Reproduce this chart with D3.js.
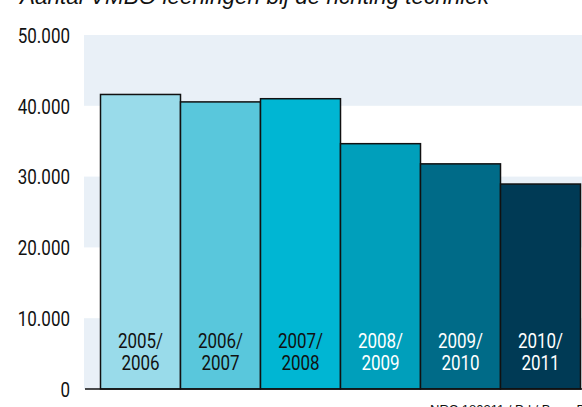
<!DOCTYPE html>
<html>
<head>
<meta charset="utf-8">
<script src="https://cdn.jsdelivr.net/npm/d3@7"></script>
<style>
  body { margin: 0; background: #fff; }
  svg { display: block; }
</style>
</head>
<body>
<div id="chart"></div>
<script>
// schooljaren en aantallen leerlingen
let years = ["2005/2006", "2006/2007", "2007/2008", "2008/2009", "2009/2010", "2010/2011"];
let students = [41600, 40550, 41000, 34650, 31800, 28950];
let barColors = ["#99dbea", "#59c7dc", "#00b6d3", "#009fbb", "#006b88", "#003a55"];
let labelColors = ["#111", "#111", "#111", "#fff", "#fff", "#fff"];
let yTicks = [0, 10000, 20000, 30000, 40000, 50000];

let width = 582;
let height = 407;
// no condensed font installed, so Roboto gets squeezed horizontally
let condensed = "Roboto, 'DejaVu Sans Condensed', sans-serif";
let squeeze = 0.85;

let svg = d3.select("#chart")
    .append("svg")
    .attr("width", width)
    .attr("height", height);

// plot area
let plotLeft = 84, plotRight = 582, plotTop = 35, plotBottom = 389;

let y = d3.scaleLinear()
    .domain([0, 50000])
    .range([plotBottom, plotTop]);

let x = d3.scaleBand()
    .domain(years)
    .range([100.5, 580.5])
    .padding(0);

// alternating background bands
let bands = d3.range(0, yTicks.length - 1, 2).map(i => [yTicks[i], yTicks[i + 1]]);
svg.selectAll(".band")
    .data(bands)
    .join("rect")
    .attr("class", "band")
    .attr("x", plotLeft)
    .attr("width", plotRight - plotLeft)
    .attr("y", d => y(d[1]))
    .attr("height", d => y(d[0]) - y(d[1]))
    .attr("fill", "#e9f0f7");

// y tick labels
svg.append("g")
    .attr("transform", "translate(70,0)")
    .call(d3.axisLeft(y).tickValues(yTicks).tickSize(0).tickPadding(0)
        .tickFormat(d => d3.format(",")(d).replace(/,/g, ".")))
    .call(g => g.select(".domain").remove())
    .selectAll("text")
    .attr("font-family", condensed)
    .attr("font-size", 20)
    .attr("fill", "#111")
    .attr("dy", "0.36em")
    .attr("transform", `scale(${squeeze},1)`);

// bars
svg.selectAll(".bar")
    .data(years)
    .join("rect")
    .attr("class", "bar")
    .attr("x", d => x(d))
    .attr("width", x.bandwidth())
    .attr("y", (d, i) => y(students[i]))
    .attr("height", (d, i) => y(0) - y(students[i]))
    .attr("fill", (d, i) => barColors[i])
    .attr("stroke", "#111")
    .attr("stroke-width", 1.5);

// labels inside bars
let labels = svg.selectAll(".lbl")
    .data(years)
    .join("text")
    .attr("class", "lbl")
    .attr("transform", d => `translate(${x(d) + x.bandwidth() / 2},0) scale(${squeeze},1)`)
    .attr("text-anchor", "middle")
    .attr("font-family", condensed)
    .attr("font-size", 20)
    .attr("fill", (d, i) => labelColors[i]);

labels.append("tspan")
    .attr("x", 0)
    .attr("y", 348)
    .text(d => d.split("/")[0] + "/");
labels.append("tspan")
    .attr("x", 0)
    .attr("y", 370)
    .text(d => d.split("/")[1]);

// baseline
svg.append("line")
    .attr("x1", 85)
    .attr("x2", plotRight)
    .attr("y1", y(0))
    .attr("y2", y(0))
    .attr("stroke", "#111")
    .attr("stroke-width", 1.5);

// title, partly cut off at the top
svg.append("text")
    .attr("x", 20)
    .attr("y", 4)
    .attr("font-family", "'Liberation Sans', Arial, sans-serif")
    .attr("font-style", "italic")
    .attr("font-size", 22.5)
    .attr("fill", "#111")
    .text("Aantal VMBO leerlingen bij de richting techniek");

// source, partly cut off at the bottom
svg.append("text")
    .attr("x", 430)
    .attr("y", 414)
    .attr("font-family", "'Liberation Sans', Arial, sans-serif")
    .attr("font-size", 13)
    .attr("fill", "#111")
    .text("NRC 180211 / Pd / Bron: DUO");
</script>
</body>
</html>
